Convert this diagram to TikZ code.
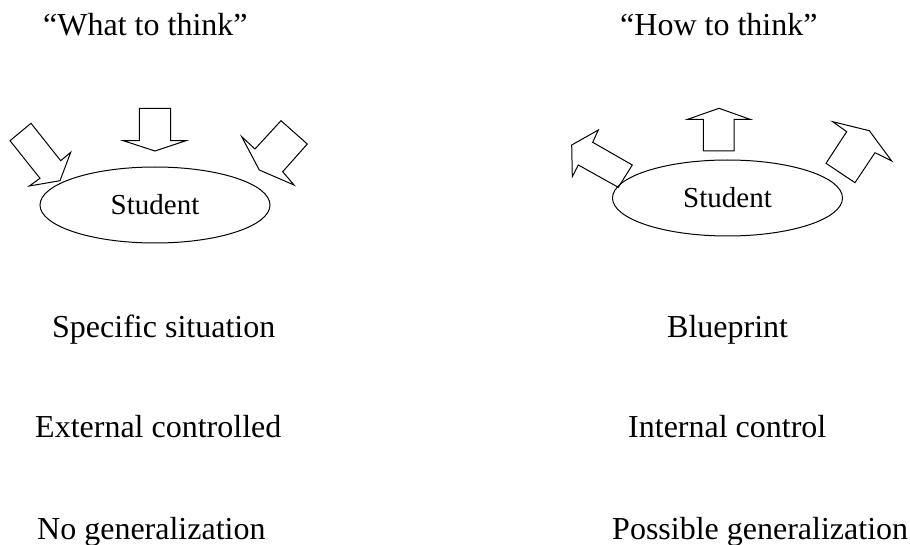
\documentclass[tikz,border=0pt]{standalone}
\usepackage{fontspec}
\setmainfont{Liberation Serif}
\usetikzlibrary{shapes.geometric}

\tikzset{
  txt/.style = {anchor = base west, inner sep = 0, font = \fontsize{32}{38}\selectfont},
  pupil/.style = {draw, ellipse, line width = 1pt, minimum width = 230pt, minimum height = 76pt,
    inner sep = 0, font = \fontsize{29}{34}\selectfont},
  blockarrow/.style = {draw, line width = 1pt, line join = miter}
}

\begin{document}
\begin{tikzpicture}[x = 1pt, y = -1pt]
      \useasboundingbox (0, 0) rectangle (910, 545);

      \node [txt] (what) at (43, 36) {“What to think”};
      \node [txt] (how) at (620, 36) {“How to think”};

      \node [pupil] (left student) at (155, 205) {Student};
      \node [pupil] (right student) at (727.5, 198) {Student};

      % arrows into the student
      \draw [blockarrow] (31, 123.3) -- (10, 140.7) -- (40, 178.3) -- (29.3, 186) -- (60, 180.7)
        -- (70.7, 152.3) -- (60.7, 160.7) -- cycle;
      \draw [blockarrow] (139.3, 108.3) -- (170.7, 108.3) -- (170.7, 140.7) -- (186, 140.7)
        -- (155, 151) -- (123.3, 140.7) -- (139.3, 140.7) -- cycle;
      \draw [blockarrow] (281, 120.7) -- (307.3, 144) -- (282.7, 171.7) -- (294, 185) -- (259.3, 170)
        -- (241.7, 136.7) -- (255, 149) -- cycle;

      % arrows out of the student
      \draw [blockarrow] (618.3, 187.3) -- (632.3, 165) -- (592.7, 142.3) -- (598.3, 130) -- (571.7, 145)
        -- (572.3, 176.7) -- (578.3, 165) -- cycle;
      \draw [blockarrow] (703.3, 151) -- (734, 151) -- (734, 119.3) -- (750, 119.3)
        -- (719, 108.3) -- (687.7, 119.3) -- (703.3, 119.3) -- cycle;
      \draw [blockarrow] (826, 163.3) -- (855, 182.7) -- (875, 152.7) -- (891.7, 161) -- (869.3, 130.7)
        -- (832.7, 121.7) -- (846.7, 131.7) -- cycle;

      \node [txt] (specific) at (52, 337) {Specific situation};
      \node [txt] (blueprint) at (667, 337) {Blueprint};
      \node [txt] (external) at (35, 437) {External controlled};
      \node [txt] (internal) at (628, 437) {Internal control};
      \node [txt] (nogen) at (37, 539) {No generalization};
      \node [txt] (possible) at (612, 539) {Possible generalization};
\end{tikzpicture}
\end{document}
